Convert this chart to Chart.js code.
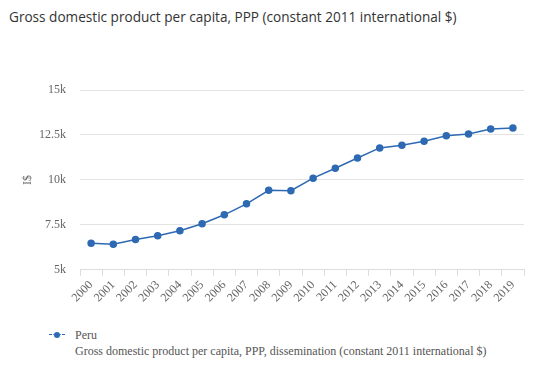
<!DOCTYPE html>
<html lang="en">
<head>
<meta charset="UTF-8">
<title>GDP per capita PPP - Peru</title>
<script src="https://cdn.jsdelivr.net/npm/chart.js@4.4.0/dist/chart.umd.min.js"></script>
<style>
    body { margin: 0; background: #fff; width: 536px; height: 372px; overflow: hidden; }
    #title { position: absolute; left: 9px; top: 7px; font-family: "Open Sans", sans-serif; font-size: 13.6px; color: #333; }
    #wrap { position: absolute; left: 0; top: 66px; width: 536px; height: 252px; }
    #legend { position: absolute; left: 49px; top: 327px; font-family: "Liberation Serif", "Times New Roman", serif; font-size: 12px; color: #555; line-height: 16px; }
    #legend .mk { position: absolute; left: 0; top: 7px; width: 16px; height: 0; border-top: 1.5px dashed #2e6ab3; }
    #legend .dot { position: absolute; left: 5px; top: 5px; width: 6px; height: 6px; border-radius: 50%; background: #2e6ab3; }
    #legend .txt { margin-left: 26px; }
</style>
</head>
<body>
<div id="title">Gross domestic product per capita, PPP (constant 2011 international $)</div>
<div id="wrap"><canvas id="myChart"></canvas></div>
<div id="legend">
    <span class="mk"></span><span class="dot"></span>
    <div class="txt">Peru<br>Gross domestic product per capita, PPP, dissemination (constant 2011 international $)</div>
</div>
<script>
    var years = ['2000','2001','2002','2003','2004','2005','2006','2007','2008','2009',
                 '2010','2011','2012','2013','2014','2015','2016','2017','2018','2019'];
    var peru = [6480, 6430, 6690, 6890, 7170, 7560, 8060, 8670, 9420, 9400,
                10100, 10650, 11220, 11780, 11930, 12150, 12460, 12550, 12830, 12890];
    var yTicks = [5000, 7500, 10000, 12500, 15000];

    var tickFont = { family: "'Liberation Serif', 'Times New Roman', serif", size: 12 };

    var ctx = document.getElementById('myChart');
    var myChart = new Chart(ctx, {
        type: 'line',
        data: {
            labels: years,
            datasets: [{
                label: 'Peru',
                data: peru,
                borderColor: '#2e6ab3',
                backgroundColor: '#2e6ab3',
                borderWidth: 1.5,
                pointRadius: 3,
                pointHoverRadius: 4,
                tension: 0,
                fill: false
            }]
        },
        options: {
            responsive: true,
            maintainAspectRatio: false,
            animation: false,
            layout: { padding: { left: 0, right: 12, top: 24, bottom: 11 } },
            plugins: {
                legend: { display: false },
                tooltip: { enabled: false }
            },
            scales: {
                x: {
                    offset: true,
                    grid: { offset: true, drawOnChartArea: false, drawTicks: true, tickLength: 6, color: '#ddd' },
                    border: { display: true, color: '#ddd' },
                    ticks: { font: tickFont, color: '#666', maxRotation: 45, minRotation: 45, autoSkip: false, padding: 2 },
                    afterFit: function (axis) { axis.paddingLeft = 0; }
                },
                y: {
                    min: 5000,
                    max: 15000,
                    afterBuildTicks: function (axis) {
                        axis.ticks = yTicks.map(function (v) { return { value: v }; });
                    },
                    afterFit: function (axis) { axis.width = 80; },
                    grid: { color: '#e3e3e3', drawTicks: false },
                    border: { display: false },
                    ticks: {
                        font: tickFont, color: '#666', padding: 14,
                        callback: function (v) { return (v / 1000) + 'k'; }
                    },
                    title: { display: true, text: 'I$', font: tickFont, color: '#666', padding: { top: 21, bottom: 6 } }
                }
            }
        }
    });
</script>
</body>
</html>
